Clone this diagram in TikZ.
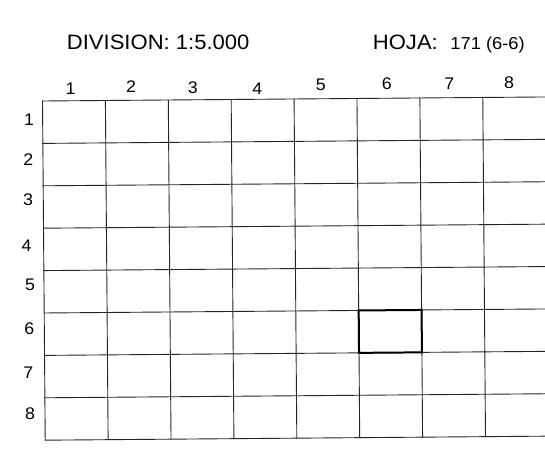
\documentclass[tikz,border=0pt]{standalone}
\usepackage{fontspec}
\setmainfont[FakeStretch=1.06]{Liberation Sans}
\begin{document}
\begin{tikzpicture}[x=1pt,y=1pt,
  gridline/.style={line width=0.9pt, draw=black!85, line cap=rect},
  hilite/.style={line width=2pt, draw=black, line join=miter},
  lab/.style={font=\fontsize{16.8}{19}\selectfont, inner sep=0pt},
  head/.style={font=\fontsize{20.8}{24}\selectfont, inner sep=0pt},
  small/.style={font=\fontsize{17.3}{20}\selectfont, inner sep=0pt}]
\useasboundingbox (0,0) rectangle (545,451);
\clip (0,0) rectangle (545,451);
\fill[white] (0,0) rectangle (545,451);
\begin{scope}[shift={(42.5,350)}, rotate=0.46]
  \foreach \i in {0,...,8} \draw[gridline] (\i*62.9,0) -- (\i*62.9,-339.2);
  \foreach \j in {0,...,8} \draw[gridline] (0,-\j*42.4) -- (503.2,-\j*42.4);
  \draw[hilite] (314.5,-212) rectangle (377.4,-254.4);
\end{scope}
% headings
\node[head, anchor=base west] (div) at (66.7,402) {DIVISION: 1:5.000};
\node[head, anchor=base west] (hoja) at (372.7,402) {HOJA:};
\node[small, anchor=base east] (num) at (525,402) {171 (6-6)};
% column labels
\node[lab] (c1) at (70.7,362) {1};
\node[lab] (c2) at (131,364.3) {2};
\node[lab] (c3) at (192.7,363.7) {3};
\node[lab] (c4) at (257.3,362.7) {4};
\node[lab] (c5) at (320.7,366) {5};
\node[lab] (c6) at (386.7,367.7) {6};
\node[lab] (c7) at (449.3,367.7) {7};
\node[lab] (c8) at (509,368.3) {8};
% row labels
\node[lab] (r1) at (29,331) {1};
\node[lab] (r2) at (28.3,291.7) {2};
\node[lab] (r3) at (28,251.7) {3};
\node[lab] (r4) at (26.7,205.7) {4};
\node[lab] (r5) at (30,166) {5};
\node[lab] (r6) at (29.3,122.7) {6};
\node[lab] (r7) at (28.3,78.7) {7};
\node[lab] (r8) at (30,37) {8};
\end{tikzpicture}
\end{document}
